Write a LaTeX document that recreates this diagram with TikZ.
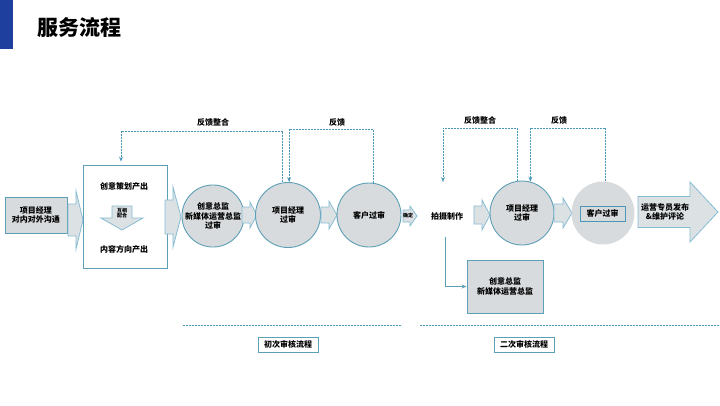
\documentclass[tikz,border=0pt]{standalone}
\usepackage{fontspec}
\setmainfont{Noto Sans CJK SC}
\usetikzlibrary{arrows.meta}
\definecolor{bar}{HTML}{1E3F9E}
\definecolor{edge}{HTML}{5C9FB6}
\definecolor{fbc}{HTML}{4A98B8}
\definecolor{cfill}{HTML}{D8DBDD}
\definecolor{afill}{HTML}{DCE1E4}
\definecolor{aedge}{HTML}{86BCD3}
\newcommand{\blockarrow}[6]{% x1, xh, x2, yc, body half, head half
  \draw[barrow] (#1,#4-#5) -- (#2,#4-#5) -- (#2,#4-#6) -- (#3,#4) -- (#2,#4+#6) -- (#2,#4+#5) -- (#1,#4+#5) -- cycle;}
\tikzset{
  barrow/.style={fill=afill,draw=aedge,line width=0.8pt,line join=miter},
  graybox/.style={draw=edge,fill=cfill,line width=0.9pt,align=center,inner sep=0pt},
  whitebox/.style={draw=edge,fill=white,line width=0.9pt,inner sep=0pt},
  circ/.style={circle,draw=edge,fill=cfill,line width=0.9pt,align=center,inner sep=0pt},
  txt/.style={align=center,inner sep=1pt},
  fb/.style={draw=fbc,dashed,dash pattern=on 2pt off 1pt,line width=0.8pt},
  fbarrow/.style={fb,-{Stealth[length=5pt,width=4pt]}},
  thinline/.style={draw=edge,line width=0.8pt,-{Stealth[length=5pt,width=4pt]}},
  stage/.style={draw=edge,line width=0.7pt,minimum width=60,minimum height=15,inner sep=0pt,font=\bfseries\fontsize{8}{9}\selectfont},
  sep/.style={draw=fbc,dashed,dash pattern=on 2pt off 1pt,line width=0.8pt}
}
\begin{document}
\begin{tikzpicture}[x=1pt,y=-1pt,font=\bfseries\fontsize{8}{9.5}\selectfont]
\useasboundingbox (0,0) rectangle (720,405);
% title
\fill[bar] (0,0) rectangle (13,49);
\node[txt,font=\bfseries\fontsize{21}{24}\selectfont] (title) at (79,28) {服务流程};
% left box
\node[graybox,minimum width=62,minimum height=36] (pm) at (36,215) {项目经理\\对内对外沟通};
\blockarrow{68}{76}{83}{220}{16}{29}
% plan box
\node[whitebox,minimum width=84,minimum height=103] (plan) at (125,216.5) {};
\node[txt] (p1) at (124,186) {创意策划产出};
\draw[barrow] (112,206) -- (132,206) -- (132,218) -- (143,218) -- (122,230) -- (101,218) -- (112,218) -- cycle;
\node[txt,font=\bfseries\fontsize{5}{5.5}\selectfont] (coop) at (122,213) {互相\\配合};
\node[txt] (p2) at (124,249) {内容方向产出};
\blockarrow{165}{173}{181}{217}{17}{30}
% first review circles
\node[circ,minimum size=62] (c1) at (213,216) {创意总监\\新媒体运营总监\\过审};
\blockarrow{242}{250}{257}{215}{8}{13}
\node[circ,minimum size=65] (c2) at (288,215) {项目经理\\过审};
\blockarrow{321}{329}{337}{215}{8}{14}
\node[circ,minimum size=64] (c3) at (369,215) {客户过审};
\blockarrow{403}{410}{417}{216}{6}{10}
\node[txt,font=\bfseries\fontsize{5}{5.5}\selectfont] (ok) at (408,216) {确定};
% second part
\node[txt] (shoot) at (447,216) {拍摄制作};
\blockarrow{474}{482}{490}{215}{9}{15}
\node[circ,minimum size=64] (c4) at (522,213) {项目经理\\过审};
\blockarrow{554}{563}{572}{213}{9}{15}
\node[circle,fill=cfill,minimum size=63,inner sep=0pt] (c5) at (603,213) {};
\node[draw=fbc,line width=0.7pt,minimum width=45,minimum height=15,inner sep=0pt] (c5t) at (602.5,213.5) {客户过审};
\blockarrow{638}{690}{718}{212}{15.5}{30}
\node[txt] (pub) at (665,212) {运营专员发布\\\&维护评论};
% lower box
\node[graybox,minimum width=76,minimum height=53] (dir2) at (505,286.5) {创意总监\\新媒体运营总监};
\coordinate (sdown) at (445,237);
\draw[thinline] (sdown) |- (dir2.west);
% feedback loops
\node[txt] (fb1) at (213,122) {反馈整合};
\draw[fbarrow] (c2.99) -- (c2.99 |- 0,131) -- (121,131) -- ([yshift=3pt]plan.north -| 121,0);
\node[txt] (fb2) at (337,122) {反馈};
\draw[fbarrow] (c3.83) -- (c3.83 |- 0,129) -- (c2.88 |- 0,129) -- (c2.88);
\node[txt] (fb3) at (480,120) {反馈整合};
\coordinate (a3) at (443,182);
\draw[fbarrow] (c4.99) -- (c4.99 |- 0,128) -- (a3 |- 0,128) -- (a3);
\node[txt] (fb4) at (559,120) {反馈};
\draw[fb] (c5.86) -- (c5.86 |- 0,128) -- (c4.75 |- 0,128);
\draw[fbarrow] (c4.75 |- 0,128) -- (c4.75);
% stage separators
\draw[sep] (183,325) -- (402,325);
\draw[sep] (420,325) -- (720,325);
\node[stage] (s1) at (288,344.5) {初次审核流程};
\node[stage] (s2) at (524,344.5) {二次审核流程};
\end{tikzpicture}
\end{document}
